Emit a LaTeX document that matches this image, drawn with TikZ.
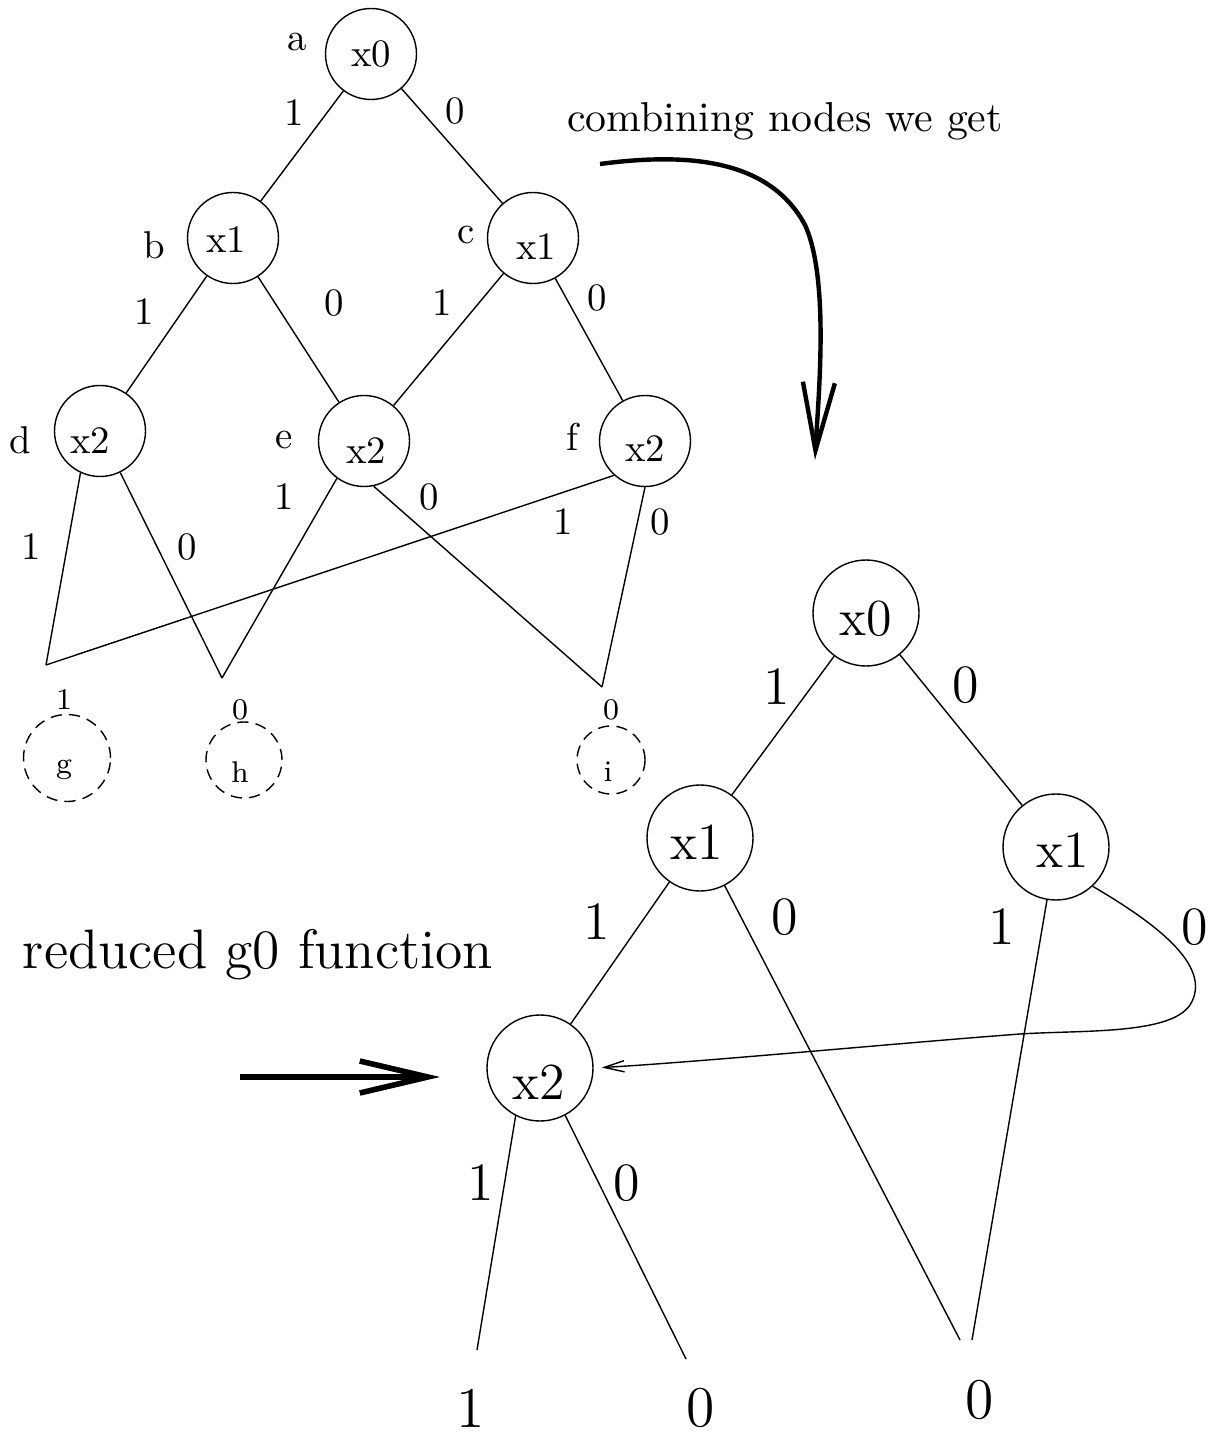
\documentclass[tikz,border=0pt]{standalone}
\usetikzlibrary{arrows.meta}
\begin{document}
\begin{tikzpicture}[x=0.25pt,y=-0.25pt,
  every node/.style={inner sep=0pt},
  ln/.style={line width=0.35pt},
  tnode/.style={circle,draw,line width=0.35pt,minimum size=22.75pt},
  bnode/.style={circle,draw,line width=0.35pt,minimum size=26.5pt},
  dnode/.style={circle,draw,line width=0.35pt,dash pattern=on 2.8pt off 1.8pt},
  tfont/.style={font=\fontsize{9.7}{11}\selectfont},
  bfont/.style={font=\fontsize{13}{15}\selectfont},
  blab/.style={font=\fontsize{13.5}{16}\selectfont},
  lfont/.style={font=\fontsize{14.4}{17}\selectfont},
  dfont/.style={font=\fontsize{7.5}{9}\selectfont},
  bigarrow/.style={line width=1.2pt,-{Straight Barb[length=17pt,width=8pt]}},
  smallarrow/.style={line width=0.35pt,-{Straight Barb[length=5pt,width=2.8pt]}},
]
\useasboundingbox (0,0) rectangle (1216,1433);

% ---------- top tree ----------
\node[tnode,label={[tfont]center:x0}] (a) at (371,54) {};
\node[tnode,label={[tfont,xshift=-1.75pt,yshift=-0.5pt]center:x1}] (b) at (233,238) {};
\node[tnode,label={[tfont,xshift=0.75pt,yshift=-2.25pt]center:x1}] (c) at (533,238) {};
\node[tnode,label={[tfont,xshift=-2.5pt,yshift=-2.5pt]center:x2}] (d) at (100,431) {};
\node[tnode,label={[tfont,xshift=0.5pt,yshift=-2.5pt]center:x2}] (e) at (364,441) {};
\node[tnode,label={[tfont,yshift=-2pt]center:x2}] (f) at (645,441) {};

\node[tfont] (la) at (297,42) {a};
\node[tfont] (lb) at (154,245) {b};
\node[tfont] (lc) at (466,235) {c};
\node[tfont] (ld) at (20,440) {d};
\node[tfont] (le) at (284,440) {e};
\node[tfont] (lf) at (572,437) {f};

\coordinate (pg) at (46,665);
\coordinate (ph) at (222,678);
\coordinate (pi) at (602,687);

\draw[ln] (a) -- (b);
\draw[ln] (a) -- (c);
\draw[ln] (b) -- (d);
\draw[ln] (b) -- (e);
\draw[ln] (c) -- (e);
\draw[ln] (c) -- (f);
\draw[ln] (d.-115) -- (pg);
\draw[ln] (d.-64) -- (ph);
\draw[ln] (e.-126) -- (ph);
\draw[ln] (e.-78) -- (pi);
\draw[ln] (f.-132) -- (pg);
\draw[ln] (f.south) -- (pi);

\node[tfont] (t1) at (294,113) {1};
\node[tfont] (t2) at (455,111) {0};
\node[tfont] (t3) at (144,312) {1};
\node[tfont] (t4) at (334,303) {0};
\node[tfont] (t5) at (442,303) {1};
\node[tfont] (t6) at (597,298) {0};
\node[tfont] (t7) at (31,547) {1};
\node[tfont] (t8) at (187,547) {0};
\node[tfont] (t9) at (284,497) {1};
\node[tfont] (t10) at (429,497) {0};
\node[tfont] (t11) at (563,522) {1};
\node[tfont] (t12) at (660,522) {0};

% dashed terminals
\node[dnode,minimum size=21.75pt,label={[dfont,xshift=-0.75pt,yshift=-3pt]center:g}] (g) at (67,758) {};
\node[dnode,minimum size=19pt,label={[dfont,xshift=-1pt,yshift=-3pt]center:h}] (h) at (244,760) {};
\node[dnode,minimum size=17pt,label={[dfont,xshift=-0.75pt,yshift=-3pt]center:i}] (i) at (611,760) {};
\node[dfont] (vg) at (64,700) {1};
\node[dfont] (vh) at (240,710) {0};
\node[dfont] (vi) at (611,710) {0};

% ---------- texts and big arrows ----------
\node[font=\fontsize{10.45}{12}\selectfont] (comb) at (785,121) {combining nodes we get};
\coordinate (cs) at (600,164);
\coordinate (ce) at (815,460);
\draw[bigarrow,line width=1.1pt] (cs) .. controls (690,152) and (770,160) .. (805,225)
      .. controls (830,280) and (818,400) .. (ce);

\node[font=\fontsize{13.9}{16}\selectfont] (red) at (258,955) {reduced g0 function};
\coordinate (ra) at (240,1077);
\coordinate (rb) at (440,1077);
\draw[bigarrow,line width=1.4pt] (ra) -- (rb);

% ---------- bottom tree ----------
\node[bnode,label={[bfont,yshift=-1.5pt]center:x0}] (X0) at (866,613) {};
\node[bnode,label={[bfont,xshift=-0.75pt,yshift=-1pt]center:x1}] (X1L) at (700,838) {};
\node[bnode,label={[bfont,xshift=1.75pt,yshift=-0.75pt]center:x1}] (X1R) at (1056,847) {};
\node[bnode,label={[bfont,xshift=-0.25pt,yshift=-3.5pt]center:x2}] (X2) at (540,1068) {};

\coordinate (q1) at (477,1350);
\coordinate (q0) at (686,1359);
\coordinate (r1) at (960,1340);
\coordinate (r2) at (972,1340);

\draw[ln] (X0) -- (X1L);
\draw[ln] (X0) -- (X1R);
\draw[ln] (X1L) -- (X2);
\draw[ln] (X1L) -- (r1);
\draw[ln] (X1R) -- (r2);
\draw[ln] (X2.-117) -- (q1);
\draw[ln] (X2.-62) -- (q0);
\draw[smallarrow,shorten >=2pt] (X1R.-47) .. controls (1150,920) and (1215,965) .. (1190,1005)
      .. controls (1170,1035) and (1080,1030) .. (1020,1034)
      .. controls (900,1043) and (700,1062) .. (X2.east);

\node[blab] (b1) at (777,687) {1};
\node[blab] (b2) at (966,685) {0};
\node[blab] (b3) at (597,922) {1};
\node[blab] (b4) at (785,917) {0};
\node[blab] (b5) at (1002,927) {1};
\node[blab] (b6) at (1195,927) {0};
\node[blab] (b7) at (481,1183) {1};
\node[blab] (b8) at (627,1183) {0};

\node[lfont] (o1) at (471,1408) {1};
\node[lfont] (o2) at (701,1408) {0};
\node[lfont] (o3) at (980,1400) {0};
\end{tikzpicture}
\end{document}
